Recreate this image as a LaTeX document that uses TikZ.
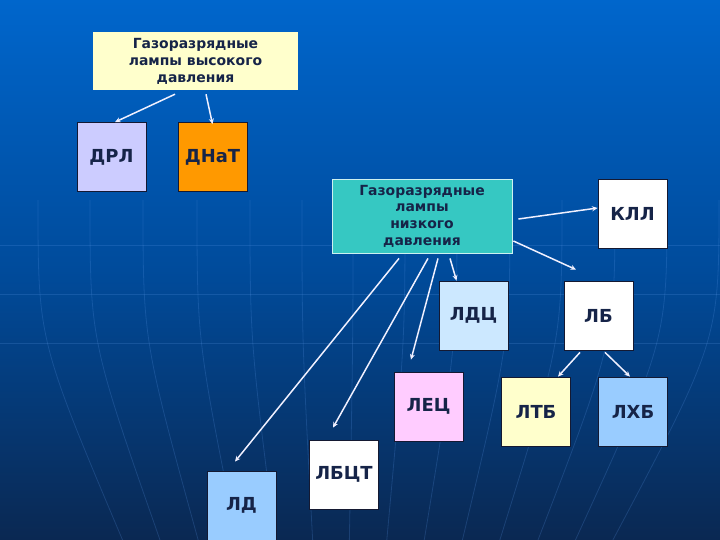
\documentclass[tikz,border=0pt]{standalone}
\usepackage{fontspec}
\setmainfont{DejaVu Sans}
\usetikzlibrary{arrows.meta}
\definecolor{bgtop}{RGB}{0,102,204}
\definecolor{bgmid}{RGB}{0,75,155}
\definecolor{bgbot}{RGB}{10,40,82}
\definecolor{gridc}{RGB}{90,150,230}
\definecolor{navy}{RGB}{22,36,72}
\definecolor{paleyellow}{RGB}{255,255,204}
\definecolor{lavender}{RGB}{204,204,255}
\definecolor{orangebox}{RGB}{255,153,0}
\definecolor{turq}{RGB}{54,200,194}
\definecolor{paleblue}{RGB}{204,232,255}
\definecolor{pinkbox}{RGB}{255,204,255}
\definecolor{skyblue}{RGB}{153,204,255}
\definecolor{boxline}{RGB}{20,25,50}
\definecolor{arrc}{RGB}{240,240,255}
\begin{document}
\begin{tikzpicture}[x=1bp,y=-1bp,
  lamp/.style={draw=boxline,line width=0.8bp,minimum width=69bp,minimum height=69bp,inner sep=0pt,
    text=navy,font=\fontsize{18}{21}\selectfont\bfseries},
  group/.style={inner sep=0pt,text=navy,align=center},
  arr/.style={draw=arrc,line width=1.5bp,-{Stealth[length=5.5bp,width=5bp]}},
  gridline/.style={draw=gridc,line width=0.8bp,opacity=0.22}]
\useasboundingbox (0,0) rectangle (720,540);
\shade[top color=bgtop,bottom color=bgbot,middle color=bgmid] (0,0) rectangle (720,540);
% faint globe grid
\foreach \yy in {245,294,343} \draw[gridline] (0,\yy) -- (720,\yy);
\foreach \xt in {38,90,143,197,250,302,353,405,457,510,562,615,667,719}{
  \pgfmathsetmacro{\xb}{340+(\xt-340)*0.72}
  \draw[gridline] (\xt,200) .. controls (\xt,340) .. (\xb,540);
}
% high pressure group
\node[group,fill=paleyellow,minimum width=205bp,minimum height=58bp,
  font=\fontsize{14}{17}\selectfont\bfseries] (hp) at (195.5,61)
  {Газоразрядные\\лампы высокого\\давления};
\node[lamp,fill=lavender] (drl) at (111.5,157) {ДРЛ};
\node[lamp,fill=orangebox] (dnat) at (212.5,157) {ДНаТ};
% low pressure group
\node[group,fill=turq,draw=white!75!turq,line width=0.8bp,minimum width=180bp,minimum height=74bp,
  font=\fontsize{14}{16.7}\selectfont\bfseries] (lp) at (422,216)
  {Газоразрядные\\лампы\\низкого\\давления};
\node[lamp,fill=white] (kll) at (632.5,213.5) {КЛЛ};
\node[lamp,fill=paleblue] (ldc) at (473.5,315.5) {ЛДЦ};
\node[lamp,fill=white] (lb) at (598.5,315.5) {ЛБ};
\node[lamp,fill=pinkbox] (lec) at (428.5,406.5) {ЛЕЦ};
\node[lamp,fill=paleyellow] (ltb) at (536,411.5) {ЛТБ};
\node[lamp,fill=skyblue] (lhb) at (633,411.5) {ЛХБ};
\node[lamp,fill=white] (lbct) at (344,474.5) {ЛБЦТ};
\node[lamp,fill=skyblue] (ld) at (241.5,505.5) {ЛД};
% connectors
\draw[arr] ([xshift=-20.5bp,yshift=-4bp]hp.south) -- ([xshift=3.5bp]drl.north);
\draw[arr] ([xshift=10.5bp,yshift=-4bp]hp.south) -- ([yshift=-2bp]dnat.north);
\draw[arr] ([xshift=6bp,yshift=-3bp]lp.east) -- ([yshift=5.5bp]kll.west);
\draw[arr] ([xshift=1bp,yshift=-25bp]lp.east) -- ([xshift=-22.5bp,yshift=11bp]lb.north);
\draw[arr] ([xshift=28bp,yshift=-5bp]lp.south) -- ([xshift=-17bp]ldc.north);
\draw[arr] ([xshift=16bp,yshift=-5bp]lp.south) -- ([xshift=-17.5bp,yshift=12bp]lec.north);
\draw[arr] ([xshift=6bp,yshift=-5bp]lp.south) -- ([xshift=-11bp,yshift=12bp]lbct.north);
\draw[arr] ([xshift=-23bp,yshift=-5bp]lp.south) -- ([xshift=-6.5bp,yshift=9bp]ld.north);
\draw[arr] ([xshift=-18.5bp,yshift=-2bp]lb.south) -- ([xshift=22bp]ltb.north);
\draw[arr] ([xshift=6.5bp,yshift=-2bp]lb.south) -- ([xshift=-3bp]lhb.north);
\end{tikzpicture}
\end{document}
